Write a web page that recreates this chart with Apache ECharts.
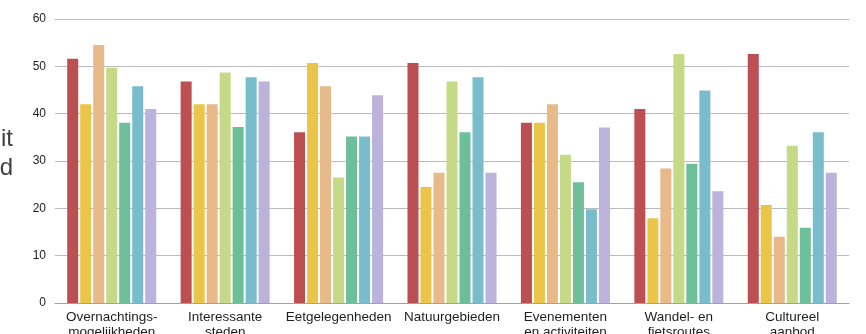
<!DOCTYPE html>
<html>
<head>
<meta charset="utf-8">
<script src="https://cdn.jsdelivr.net/npm/echarts@6/dist/echarts.min.js"></script>
<style>
  html, body { margin: 0; padding: 0; background: #ffffff; }
  #chart { width: 866px; height: 334px; }
</style>
</head>
<body>
<div id="chart"></div>
<script>
// Categories on the x axis
const categories = [
  'Overnachtings-\nmogelijkheden',
  'Interessante\nsteden',
  'Eetgelegenheden',
  'Natuurgebieden',
  'Evenementen\nen activiteiten',
  'Wandel- en\nfietsroutes',
  'Cultureel\naanbod'
];

// One array per bar series (percentages)
const seriesRed      = [51.6, 46.8, 36.1, 50.7, 38.1, 41.0, 52.6];
const seriesYellow   = [42.0, 42.0, 50.7, 24.5, 38.1, 17.9, 20.7];
const seriesPeach    = [54.5, 42.0, 45.8, 27.5, 42.0, 28.4, 14.0];
const seriesLime     = [49.7, 48.7, 26.5, 46.8, 31.3, 52.6, 33.2];
const seriesGreen    = [38.1, 37.2, 35.2, 36.1, 25.5, 29.4, 15.9];
const seriesTeal     = [45.8, 47.7, 35.2, 47.7, 19.8, 44.9, 36.1];
const seriesLavender = [41.0, 46.8, 43.9, 27.5, 37.1, 23.6, 27.5];

// Value axis ticks
const yTicks = [0, 10, 20, 30, 40, 50, 60];

// Axis title, two lines, running off the left edge
const axisTitleLines = ['Populariteit', 'per aanbod'];

const seriesData = [seriesRed, seriesYellow, seriesPeach, seriesLime, seriesGreen, seriesTeal, seriesLavender];
const colors = ['#BC4F51', '#EBC54A', '#E8B989', '#C6D987', '#6DBF9A', '#79BDCD', '#BBB3DB'];

const FONT = '"Liberation Sans", Arial, Helvetica, sans-serif';

const chart = echarts.init(document.getElementById('chart'), null, { renderer: 'canvas' });

chart.setOption({
  animation: false,
  backgroundColor: '#ffffff',
  grid: { left: 55, right: 17, top: 19, bottom: 31, containLabel: false, outerBoundsMode: 'none' },
  graphic: axisTitleLines.map((t, i) => ({
    type: 'text',
    x: 13,
    y: 139 + i * 29,
    style: {
      text: t,
      font: '24px ' + FONT,
      fill: '#404040',
      align: 'right',
      verticalAlign: 'middle'
    }
  })),
  xAxis: {
    type: 'category',
    data: categories,
    axisLine: { show: true, lineStyle: { color: '#9ea3a8', width: 1 } },
    axisTick: { show: false },
    axisLabel: {
      interval: 0,
      margin: 7,
      color: '#1e1e1e',
      fontFamily: FONT,
      fontSize: 13.5,
      lineHeight: 15
    }
  },
  yAxis: {
    type: 'value',
    min: 0,
    max: 60,
    interval: 10,
    axisLine: { show: false },
    axisTick: { show: false },
    axisLabel: {
      margin: 9,
      color: '#222222',
      fontFamily: FONT,
      fontSize: 12,
      formatter: v => (yTicks.indexOf(v) >= 0 ? String(v) : '')
    },
    splitLine: { show: true, lineStyle: { color: '#b8bcc1', width: 1 } }
  },
  series: seriesData.map((d, i) => ({
    type: 'bar',
    data: d,
    barCategoryGap: '21.5%',
    barGap: '18%',
    itemStyle: { color: colors[i] }
  }))
});
</script>
</body>
</html>
